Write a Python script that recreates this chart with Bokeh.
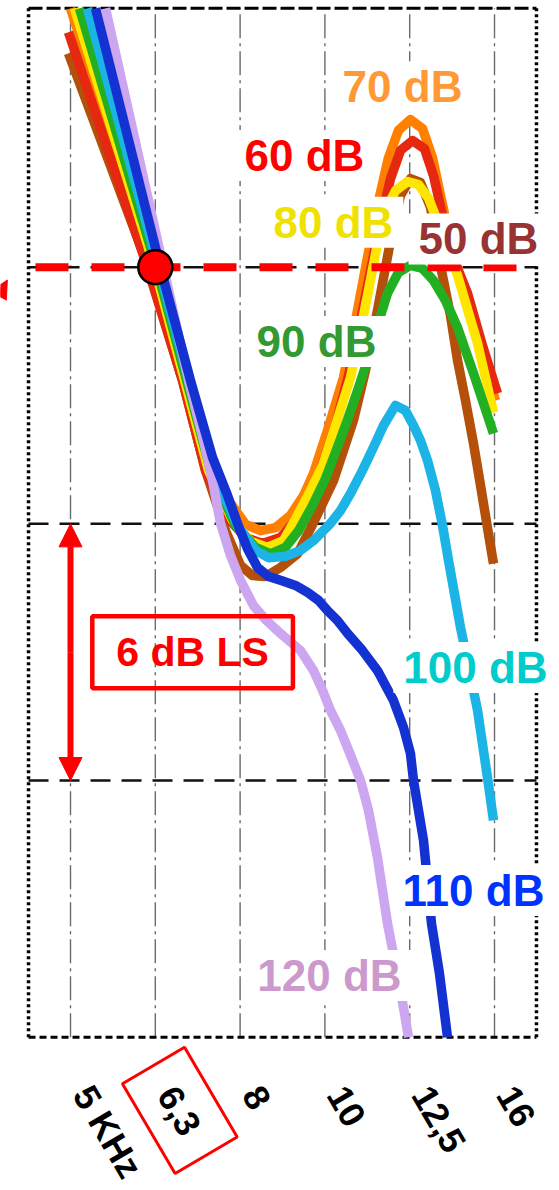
from bokeh.plotting import figure
from bokeh.models import Range1d, Label, Arrow, NormalHead
from bokeh.core.properties import value
from bokeh.embed import file_html
from bokeh.resources import INLINE

# x: third-octave band steps above 5 kHz, y: level relative to the 0 dB reference (dB)
tick_pos = [0, 1, 2, 3, 4, 5]
tick_labels = ["5 KHz", "6,3", "8", "10", "12,5", "16"]
boxed_tick = 1

levels = [50, 60, 70, 80, 90, 100, 110, 120]

x_50 = [-0.024, 0.920, 1.321, 1.592, 1.828, 2.005, 2.146, 2.300, 2.476, 2.677, 2.866, 3.101,
        3.337, 3.479, 3.620, 3.774, 3.892, 4.009, 4.127, 4.245, 4.375, 4.481, 4.564, 4.658,
        4.752, 4.835, 4.917, 4.988]
y_50 = [5.00, -0.01, -2.65, -4.75, -6.16, -6.97, -7.21, -7.23, -7.02, -6.70, -5.97, -4.99,
        -3.58, -2.41, -1.01, 0.62, 1.68, 2.07, 1.98, 1.40, -0.08, -1.13, -2.18, -3.12,
        -4.12, -5.10, -6.09, -6.93]

x_60 = [-0.024, 0.908, 1.321, 1.592, 1.828, 2.064, 2.264, 2.476, 2.653, 2.795, 2.948, 3.125,
        3.278, 3.420, 3.538, 3.656, 3.774, 3.892, 4.033, 4.175, 4.281, 4.387, 4.505, 4.682,
        4.858, 5.035]
y_60 = [5.49, -0.01, -2.65, -4.75, -5.80, -6.32, -6.46, -6.32, -5.92, -5.45, -4.75, -3.70,
        -2.53, -1.25, -0.08, 1.09, 2.07, 2.73, 2.96, 2.77, 2.14, 1.21, 0.27, -0.61,
        -1.83, -2.95]

x_70 = [0.000, 0.979, 1.592, 1.863, 2.064, 2.241, 2.417, 2.594, 2.748, 2.866, 3.031, 3.219,
        3.361, 3.491, 3.620, 3.750, 3.868, 4.009, 4.151, 4.269, 4.363, 4.505, 4.658, 4.835,
        5.012]
y_70 = [6.05, -0.01, -4.05, -5.45, -6.01, -6.16, -6.09, -5.80, -5.34, -4.82, -3.81, -2.58,
        -1.25, 0.11, 1.44, 2.56, 3.20, 3.45, 3.24, 2.56, 1.68, 0.39, -0.78, -1.95,
        -3.12]

x_80 = [0.047, 0.991, 1.627, 1.910, 2.123, 2.323, 2.512, 2.677, 2.830, 2.972, 3.125, 3.302,
        3.420, 3.514, 3.620, 3.715, 3.833, 3.974, 4.104, 4.222, 4.363, 4.564, 4.800, 4.988]
y_80 = [6.05, -0.01, -4.75, -5.92, -6.41, -6.55, -6.39, -5.80, -5.22, -4.64, -3.70, -2.58,
        -1.48, -0.54, 0.55, 1.33, 1.79, 2.00, 1.93, 1.61, 0.90, -0.19, -1.78, -3.40]

x_90 = [0.106, 1.014, 1.651, 1.946, 2.182, 2.358, 2.535, 2.689, 2.854, 3.007, 3.125, 3.243,
        3.384, 3.502, 3.620, 3.738, 3.868, 4.009, 4.151, 4.281, 4.422, 4.564, 4.752, 4.988]
y_90 = [6.05, -0.01, -4.75, -6.04, -6.55, -6.70, -6.55, -6.16, -5.57, -4.94, -4.33, -3.70,
        -2.89, -2.18, -1.37, -0.61, -0.12, 0.04, -0.03, -0.31, -0.78, -1.41, -2.48, -3.89]

x_100 = [0.200, 1.038, 1.675, 1.969, 2.182, 2.335, 2.535, 2.712, 2.866, 3.066, 3.184, 3.302,
         3.443, 3.573, 3.691, 3.833, 3.950, 4.045, 4.127, 4.210, 4.304, 4.387, 4.458, 4.599,
         4.800, 4.917, 4.988]
y_100 = [6.05, -0.01, -4.75, -6.04, -6.62, -6.79, -6.76, -6.62, -6.39, -5.99, -5.69, -5.29,
         -4.75, -4.21, -3.70, -3.23, -3.35, -3.70, -4.05, -4.52, -5.22, -6.04, -6.86, -8.42,
         -10.36, -11.93, -12.93]

x_110 = [0.295, 1.061, 1.415, 1.675, 1.840, 1.969, 2.087, 2.205, 2.335, 2.476, 2.653, 2.795,
         2.925, 3.031, 3.149, 3.267, 3.443, 3.620, 3.809, 3.927, 4.009, 4.045, 4.104, 4.163,
         4.257, 4.351, 4.446]
y_110 = [6.05, -0.01, -2.65, -4.45, -5.27, -5.99, -6.58, -7.02, -7.23, -7.32, -7.44, -7.60,
         -7.79, -8.03, -8.26, -8.56, -8.96, -9.43, -10.13, -10.76, -11.37, -12.00, -12.70, -13.40,
         -15.34, -16.51, -18.00]

x_120 = [0.413, 1.097, 1.392, 1.568, 1.675, 1.769, 1.887, 2.005, 2.158, 2.311, 2.476, 2.712,
         2.866, 2.972, 3.066, 3.184, 3.267, 3.420, 3.514, 3.620, 3.738, 3.892, 3.986]
y_120 = [6.05, -0.01, -2.65, -4.05, -4.99, -5.99, -6.74, -7.32, -7.91, -8.26, -8.56, -8.96,
         -9.43, -9.89, -10.36, -10.83, -11.23, -12.00, -12.70, -13.80, -15.34, -16.91, -18.00]

# reference crossing at 6.3 kHz / 0 dB and the 6 dB steps
ref_x = [1]
ref_y = [0]
step_levels = [0, -6, -12]

curves = {50: (x_50, y_50), 60: (x_60, y_60), 70: (x_70, y_70), 80: (x_80, y_80),
          90: (x_90, y_90), 100: (x_100, y_100), 110: (x_110, y_110), 120: (x_120, y_120)}

line_colors = {50: "#B4500A", 60: "#E62810", 70: "#FF7F00", 80: "#FFE600",
               90: "#22B022", 100: "#1CB4E6", 110: "#1432D2", 120: "#CCA6F0"}
text_colors = {50: "#993333", 60: "#FF0000", 70: "#FF9933", 80: "#F0E100",
               90: "#339933", 100: "#00CCCC", 110: "#0033FF", 120: "#CC99CC"}
label_pos = {50: (4.811, 0.66), 60: (2.759, 2.61), 70: (3.915, 4.22), 80: (3.101, 1.05),
             90: (2.901, -1.74), 100: (4.776, -9.36), 110: (4.752, -14.57), 120: (3.054, -16.56)}

# frame box and tick-label row (plot units)
x_lo, x_hi = -0.495, 5.495
y_lo, y_hi = -18.0, 6.05
tick_row_y = -19.2
boxed_row_y = -19.71

p = figure(width=559, height=1190, output_backend="svg", toolbar_location=None,
           x_range=Range1d(-0.8255, 5.7665), y_range=Range1d(-21.583, 6.234),
           x_axis_location=None, y_axis_location=None, min_border=0)
p.grid.visible = False
p.outline_line_color = None
p.background_fill_color = "white"
p.border_fill_color = "white"

# vertical dash-dot grid
p.segment(x0=tick_pos, x1=tick_pos, y0=[y_lo] * 6, y1=[y_hi] * 6,
          line_color="#6a6a6a", line_width=1.4, line_dash="24 5 3 5")
# horizontal dashed 6 dB steps
p.segment(x0=[x_lo] * 3, x1=[x_hi] * 3, y0=step_levels, y1=step_levels,
          line_color="#111111", line_width=2.5, line_dash="20 11")

# dotted / dashed frame
p.line([x_lo, x_hi], [y_hi, y_hi], line_color="black", line_width=3, line_dash="14 4")
p.line([x_lo, x_hi], [y_lo, y_lo], line_color="black", line_width=3, line_dash="7 4")
p.line([x_lo, x_lo], [y_lo, y_hi], line_color="black", line_width=3.5, line_dash="3 3")
p.line([x_hi, x_hi], [y_lo, y_hi], line_color="black", line_width=3.5, line_dash="3 3")

for lvl in [50, 70, 60, 80, 90, 100, 120, 110]:
    xs, ys = curves[lvl]
    p.line(xs, ys, line_color=line_colors[lvl], line_width=9.5, line_join="round")

# red reference level
p.line([-0.413, 5.271], [0, 0], line_color="#FF0000", line_width=8, line_dash="33 23")
p.scatter(ref_x, ref_y, size=34, fill_color="#FF0000", line_color="black", line_width=2.5)

# frequency tick labels, slanted below the frame
plain = [i for i in range(len(tick_pos)) if i != boxed_tick]
tick_style = dict(angle=-1.04, text_baseline="middle",
                  text_font=value("Liberation Sans"), text_font_style="bold",
                  text_font_size="36px", text_color="black")
p.text(x=[tick_pos[i] for i in plain], y=[tick_row_y] * len(plain),
       text=[tick_labels[i] for i in plain], text_align="left", x_offset=12, **tick_style)
p.text(x=[tick_pos[boxed_tick]], y=[boxed_row_y], text=[tick_labels[boxed_tick]],
       text_align="center", x_offset=24.5,
       border_line_color="#FF0000", border_line_width=3, padding=(27, 23), **tick_style)

for lvl in levels:
    lx, ly = label_pos[lvl]
    p.add_layout(Label(x=lx, y=ly, text=f"{lvl} dB", text_color=text_colors[lvl],
                       text_font="Liberation Sans", text_font_style="bold",
                       text_font_size="44px", text_align="center", text_baseline="middle",
                       background_fill_color="white", padding=(10, 1)))

# 6 dB level-step arrow
for tip in (-6, -12):
    p.add_layout(Arrow(x_start=0, y_start=-9, x_end=0, y_end=tip,
                       end=NormalHead(size=23, fill_color="#FF0000", line_color="#FF0000"),
                       line_color="#FF0000", line_width=6))
p.add_layout(Label(x=1.44, y=-9.0, text="6 dB LS", text_color="#FF0000",
                   text_font="Liberation Sans", text_font_style="bold", text_font_size="41px",
                   text_align="center", text_baseline="middle",
                   border_line_color="#FF0000", border_line_width=4.5, padding=(24, 13)))

# pointer to the reference level, entering from the left edge
p.add_layout(Arrow(x_start=-1.0, y_start=-1.2, x_end=-0.745, y_end=-0.30,
                   end=NormalHead(size=18, fill_color="#FF0000", line_color="#FF0000"),
                   line_color="#FF0000", line_width=5))

open("out.html", "w").write(file_html(p, INLINE))
